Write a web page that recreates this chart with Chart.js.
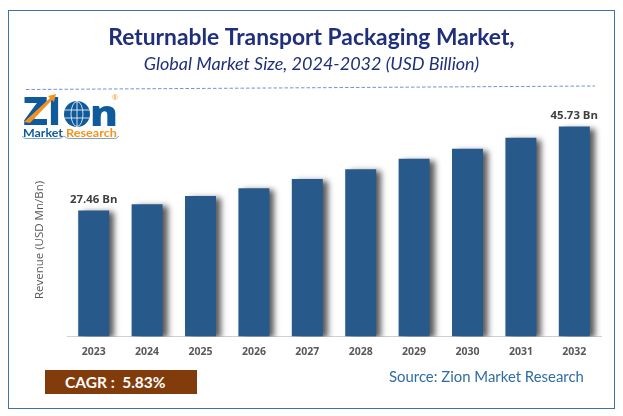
<!DOCTYPE html>
<html><head><meta charset="utf-8">
<script src="https://cdn.jsdelivr.net/npm/chart.js@4"></script>
<style>
html,body{margin:0;padding:0;background:#fff;}
#wrap{position:relative;width:623px;height:416px;overflow:hidden;}
#c{position:absolute;left:0;top:0;}
#frame{position:absolute;left:8px;top:10px;width:605px;height:397px;border:1px solid #3f72a5;pointer-events:none;}
#cagr{position:absolute;left:45px;top:370px;width:152px;height:24px;background:#823b0b;color:#fff;font:bold 15.5px Lato,sans-serif;line-height:24px;box-sizing:border-box;padding-left:20px;white-space:pre;}
#source{position:absolute;left:389px;top:366px;color:#2e6da4;font:14.9px Lato,sans-serif;white-space:nowrap;line-height:20px;}
svg{position:absolute;left:0;top:0;}
</style></head><body>
<div id="wrap">
<canvas id="c" width="623" height="416"></canvas>
<div id="frame"></div>
<svg width="623" height="416">
  <line x1="26" y1="89.5" x2="595" y2="86" stroke="#6f94d6" stroke-width="1" stroke-dasharray="3.5 2"/>
  <text x="23" y="125" font-family="Open Sans" font-weight="800" font-size="38" fill="#0f5a9c" textLength="25" lengthAdjust="spacingAndGlyphs">Z</text>
  <text x="48" y="125" font-family="Open Sans" font-weight="800" font-size="38" fill="#0f5a9c" textLength="13" lengthAdjust="spacingAndGlyphs">I</text>
  <path d="M24 122 L50 98 L48 96 L56 94 L54 102 L52 100 L30 123 Z" fill="#f5921e"/>
  <circle cx="77" cy="114" r="13" fill="#0f5a9c"/>
  <ellipse cx="77" cy="114" rx="6" ry="12.5" fill="none" stroke="#fff" stroke-width=".8"/>
  <path d="M64.5 110 H89.5 M64.5 118 H89.5 M77 101.5 V126.5" stroke="#fff" stroke-width=".8"/>
  <text x="90" y="126" font-family="Open Sans" font-weight="800" font-size="36" fill="#0f5a9c" textLength="28" lengthAdjust="spacingAndGlyphs">n</text>
  <text x="112" y="100" font-family="Open Sans" font-size="7" fill="#f5921e">®</text>
  <text x="23" y="137" font-family="Lato" font-weight="700" font-size="11.5" fill="#0f5a9c" textLength="40" lengthAdjust="spacingAndGlyphs">Market</text>
  <text x="66" y="137" font-family="Lato" font-weight="700" font-size="11.5" fill="#f5921e" textLength="51" lengthAdjust="spacingAndGlyphs">Research</text>
  <path d="M22 136 Q24 139 28 138.5 H58 Q62 138.5 64 136 Q66 138.5 70 138.5 H113 Q117 139 119 136" fill="none" stroke="#3f80b8" stroke-width=".7"/>
</svg>
<div id="cagr">CAGR :  5.83%</div>
<div id="source">Source: Zion Market Research</div>
</div>
<script>
const categories = ['2023','2024','2025','2026','2027','2028','2029','2030','2031','2032'];
const revenue = [27.46,28.8,30.6,32.3,34.3,36.4,38.7,40.9,43.3,45.73];
const valueLabels = ['27.46 Bn','','','','','','','','','45.73 Bn'];
const titleText = 'Returnable Transport Packaging Market,';
const subtitleText = 'Global Market Size, 2024-2032 (USD Billion)';
const yTitle = 'Revenue (USD Mn/Bn)';

const barShadow = {
  id:'barShadow',
  beforeDatasetDraw(chart){
    const c=chart.ctx; c.save();
    c.shadowColor='rgba(0,0,0,0.65)'; c.shadowBlur=6; c.shadowOffsetX=5; c.shadowOffsetY=2;
  },
  afterDatasetDraw(chart){ chart.ctx.restore(); }
};
const barLabels = {
  id:'barLabels',
  afterDatasetsDraw(chart){
    const c=chart.ctx; c.save();
    c.font='bold 11.4px "Open Sans"'; c.fillStyle='#404040'; c.textAlign='center'; c.textBaseline='bottom';
    chart.getDatasetMeta(0).data.forEach((b,i)=>{
      if(valueLabels[i]) c.fillText(valueLabels[i], b.x, b.y-5);
    });
    // value-axis caption, sitting lower than the plot centre as in the reference
    c.translate(40,240); c.rotate(-Math.PI/2);
    c.font='11.5px "Open Sans"'; c.fillStyle='#595959'; c.textBaseline='middle';
    c.fillText(yTitle,0,0);
    c.restore();
  }
};
new Chart(document.getElementById('c'),{
  type:'bar',
  data:{labels:categories,datasets:[{data:revenue,backgroundColor:'#275a8a',borderWidth:0,
    categoryPercentage:1,barPercentage:0.58}]},
  plugins:[barShadow,barLabels],
  options:{
    responsive:false,animation:false,
    layout:{padding:{left:22,right:22,top:24,bottom:49}},
    plugins:{
      legend:{display:false},tooltip:{enabled:false},
      title:{display:true,text:titleText,color:'#1f2f7a',font:{family:'Lato',weight:'bold',size:22.8},padding:{top:0,bottom:2}},
      subtitle:{display:true,text:subtitleText,color:'#1f2f7a',font:{family:'Lato',style:'italic',size:18},padding:{top:0,bottom:32}}
    },
    scales:{
      x:{grid:{display:false,drawTicks:false},border:{color:'#d0d0d0',width:1},
         ticks:{color:'#595959',font:{family:'Open Sans',weight:'bold',size:10.5},padding:9,maxRotation:0}},
      y:{min:0,max:50,grid:{display:false,drawTicks:false},border:{display:false},
         ticks:{display:false},afterFit(s){s.width=45;}}
    }
  }
});
</script>
</body></html>
